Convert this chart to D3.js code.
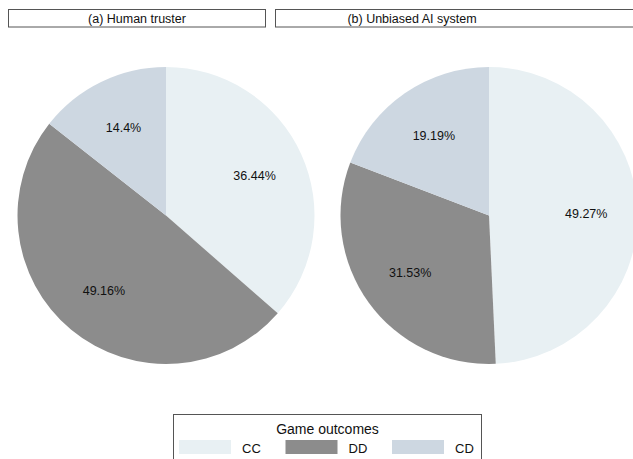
<!DOCTYPE html>
<html>
<head>
<meta charset="utf-8">
<script src="https://cdn.jsdelivr.net/npm/d3@7"></script>
<style>
html,body{margin:0;padding:0;background:#fff;}
svg{display:block;font-family:"Liberation Sans",Arial,Helvetica,sans-serif;}
</style>
</head>
<body>
<svg id="chart" width="633" height="459"></svg>
<script>
const categories = ["CC", "DD", "CD"];
const panelTitles = ["(a) Human truster", "(b) Unbiased AI system"];
const humanValues = [36.44, 49.16, 14.4];
const aiValues = [49.27, 31.53, 19.19];
const colors = ["#e8f0f3", "#8c8c8c", "#cdd7e1"];
const legendTitle = "Game outcomes";

const svg = d3.select("#chart");
const color = d3.scaleOrdinal().domain(categories).range(colors);

const panels = [
  {title: panelTitles[0], values: humanValues, cx: 166, cy: 215.5, box: [8, 265], tx: 137},
  {title: panelTitles[1], values: aiValues, cx: 489, cy: 215.5, box: [275, 650], tx: 412}
];
const r = 148.5;
const pie = d3.pie().sort(null).value(d => d.v);
const arc = d3.arc().innerRadius(0).outerRadius(r);
const labelArc = d3.arc().innerRadius(r * 0.655).outerRadius(r * 0.655);

panels.forEach(p => {
  svg.append("rect")
    .attr("x", p.box[0] + 0.5).attr("y", 9.5)
    .attr("width", p.box[1] - p.box[0]).attr("height", 17.5)
    .attr("fill", "#fff").attr("stroke", "#555").attr("stroke-width", 1);
  svg.append("text")
    .attr("x", p.tx).attr("y", 22.5)
    .attr("text-anchor", "middle")
    .attr("font-size", 12.5).attr("fill", "#111")
    .text(p.title);

  const data = pie(categories.map((c, i) => ({c, v: p.values[i]})));
  const g = svg.append("g").attr("transform", `translate(${p.cx},${p.cy})`);
  g.selectAll("path").data(data).join("path")
    .attr("d", arc)
    .attr("fill", d => color(d.data.c));
  g.selectAll("text").data(data).join("text")
    .attr("transform", d => `translate(${labelArc.centroid(d)})`)
    .attr("text-anchor", "middle")
    .attr("dy", "0.35em")
    .attr("font-size", 12.5).attr("fill", "#111")
    .text(d => d.data.v + "%");
});

// Legend
const lg = svg.append("g");
lg.append("rect")
  .attr("x", 173.5).attr("y", 414.5)
  .attr("width", 308).attr("height", 60)
  .attr("fill", "#fff").attr("stroke", "#555").attr("stroke-width", 1);
lg.append("text")
  .attr("x", 327.5).attr("y", 434)
  .attr("text-anchor", "middle")
  .attr("font-size", 14).attr("fill", "#111")
  .text(legendTitle);
const legendX = d3.scalePoint().domain(categories).range([179, 392]);
categories.forEach(c => {
  const x = legendX(c);
  lg.append("rect")
    .attr("x", x).attr("y", 440)
    .attr("width", 52).attr("height", 14)
    .attr("fill", color(c));
  lg.append("text")
    .attr("x", x + 63).attr("y", 452.5)
    .attr("font-size", 13).attr("fill", "#111")
    .text(c);
});
</script>
</body>
</html>
